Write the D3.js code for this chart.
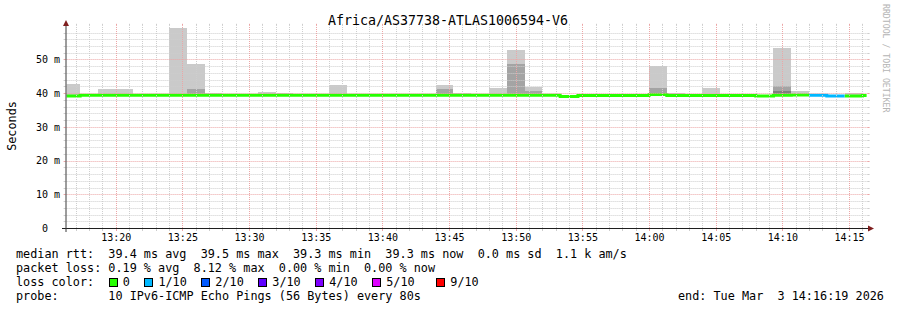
<!DOCTYPE html>
<html>
<head>
<meta charset="utf-8">
<script src="https://cdn.jsdelivr.net/npm/d3@7"></script>
<style>
  body { margin: 0; background: #fff; }
  text { font-family: "DejaVu Sans Mono", monospace; }
</style>
</head>
<body>
<svg id="chart" width="897" height="310"></svg>
<script>
// smokeping graph, 80 s step, 10 pings per step

// start of each 80 s bin
var binTimes = ['13:16:00', '13:17:20', '13:18:40', '13:20:00', '13:21:20', '13:22:40',
  '13:24:00', '13:25:20', '13:26:40', '13:28:00', '13:29:20', '13:30:40', '13:32:00',
  '13:33:20', '13:34:40', '13:36:00', '13:37:20', '13:38:40', '13:40:00', '13:41:20',
  '13:42:40', '13:44:00', '13:45:20', '13:46:40', '13:48:00', '13:49:20', '13:50:40',
  '13:52:00', '13:53:20', '13:54:40', '13:56:00', '13:57:20', '13:58:40', '14:00:00',
  '14:01:20', '14:02:40', '14:04:00', '14:05:20', '14:06:40', '14:08:00', '14:09:20',
  '14:10:40', '14:12:00', '14:13:20', '14:14:40', '14:16:00'];

// median rtt (ms)
var binMedian = [39.2, 39.4, 39.4, 39.4, 39.4, 39.4, 39.4, 39.4, 39.4, 39.4,
  39.4, 39.4, 39.4, 39.4, 39.4, 39.4, 39.4, 39.4, 39.4, 39.4,
  39.4, 39.4, 39.4, 39.4, 39.4, 39.4, 39.4, 39.4, 39.0, 39.3,
  39.3, 39.3, 39.3, 39.6, 39.3, 39.3, 39.3, 39.3, 39.3, 39.2,
  39.4, 39.5, 39.4, 39.2, 39.2, 39.3];

// lost pings out of 10
var binLoss = [0, 0, 0, 0, 0, 0, 0, 0, 0, 0,
  0, 0, 0, 0, 0, 0, 0, 0, 0, 0,
  0, 0, 0, 0, 0, 0, 0, 0, 0, 0,
  0, 0, 0, 0, 0, 0, 0, 0, 0, 0,
  0, 0, 1, 1, 0, 0];

// smoke tops (ms): slowest ping, 9th, 8th  (null = hidden under the median line)
var pingMax = [42.7, null, 41.2, 41.2, null, null, 59.3, 48.7, 40.1, null,
  null, 40.4, 40.1, null, null, 42.4, null, null, null, null,
  null, 42.4, 40.1, null, 41.5, 52.8, 41.8, null, null, null,
  null, null, null, 48.1, 40.1, null, 41.5, null, null, null,
  53.4, 40.7, null, null, 40.0, null];
var pingP9 = [null, null, null, null, null, null, null, 41.2, null, null,
  null, null, null, null, null, null, null, null, null, null,
  null, 41.2, null, null, null, 48.7, 40.7, null, null, null,
  null, null, null, 41.6, null, null, null, null, null, null,
  42.0, null, null, null, null, null];
var pingP8 = [null, null, null, null, null, null, null, null, null, null,
  null, null, null, null, null, null, null, null, null, null,
  null, null, null, null, null, null, null, null, null, null,
  null, null, null, null, null, null, null, null, null, null,
  40.7, null, null, null, null, null];

var yTicks = [0, 10, 20, 30, 40, 50];
var lossLabels = ['0', '1/10', '2/10', '3/10', '4/10', '5/10', '9/10'];
var lossColors = ['#26ff00', '#00b8ff', '#0059ff', '#5e00ff', '#7e00ff', '#dd00ff', '#ff0000'];
var smokeColors = ['#cacaca', '#a4a4a4', '#7e7e7e'];

var legendLines = [
  'median rtt:  39.4 ms avg  39.5 ms max  39.3 ms min  39.3 ms now  0.0 ms sd  1.1 k am/s',
  'packet loss: 0.19 % avg  8.12 % max  0.00 % min  0.00 % now',
  'loss color:',
  'probe:       10 IPv6-ICMP Echo Pings (56 Bytes) every 80s'
];
var titleText = 'Africa/AS37738-ATLAS1006594-V6';
var endText = 'end: Tue Mar  3 14:16:19 2026';

var parse = d3.timeParse('%Y-%m-%d %H:%M:%S');
var day = '2026-03-03 ';
var STEP = 80 * 1000;

var xLeft = 66.6, xRight = 866.6, yBottom = 228, yTop = 25.8;

var svg = d3.select('#chart');
svg.append('rect').attr('width', 897).attr('height', 310).attr('fill', '#fff');

var x = d3.scaleTime()
  .domain([parse(day + '13:16:19'), parse(day + '14:16:19')])
  .range([xLeft, xRight]);
var y = d3.scaleLinear().domain([0, 60]).range([yBottom, yTop]);

var bins = binTimes.map(function(t, i) {
  var s = parse(day + t);
  return {
    start: s, end: new Date(+s + STEP), median: binMedian[i], loss: binLoss[i],
    tops: [pingMax[i], pingP9[i], pingP8[i]]
  };
});

svg.append('clipPath').attr('id', 'plot')
  .append('rect').attr('x', xLeft).attr('y', yTop - 2)
  .attr('width', xRight - xLeft).attr('height', yBottom - yTop + 2);

var graph = svg.append('g').attr('clip-path', 'url(#plot)');

// smoke
smokeColors.forEach(function(col, k) {
  graph.append('g').selectAll('rect')
    .data(bins.filter(function(b) { return b.tops[k] != null; }))
    .enter().append('rect')
    .attr('x', function(b) { return x(b.start); })
    .attr('width', function(b) { return x(b.end) - x(b.start); })
    .attr('y', function(b) { return y(b.tops[k]); })
    .attr('height', function(b) { return y(b.median) - y(b.tops[k]); })
    .attr('fill', col)
    .attr('shape-rendering', 'crispEdges');
});

// median line, coloured by loss
var pts = [];
bins.forEach(function(b) {
  pts.push({ t: b.start, v: b.median, loss: b.loss });
  pts.push({ t: b.end, v: b.median, loss: b.loss });
});
lossColors.forEach(function(col, c) {
  var lossVal = c === 6 ? 9 : c;
  if (!pts.some(function(p) { return p.loss === lossVal; })) return;
  var line = d3.line()
    .defined(function(p) { return p.loss === lossVal; })
    .x(function(p) { return x(p.t); })
    .y(function(p) { return y(p.v); });
  graph.append('path').attr('d', line(pts))
    .attr('fill', 'none').attr('stroke', col).attr('stroke-width', 3);
});

// grid on top
var grid = svg.append('g');
var minorY = d3.range(2, 60, 2).filter(function(v) { return v % 10 !== 0; });
var majorY = yTicks.filter(function(v) { return v > 0; });
var minorX = x.ticks(d3.timeMinute.every(1)).filter(function(d) { return d.getMinutes() % 5 !== 0; });
var majorX = x.ticks(d3.timeMinute.every(5));
var gridCol = '#cecece', mgridCol = '#eca6a6';
function py(v) { return Math.round(y(v)) + 0.5; }
function px(d) { return Math.round(x(d)) + 0.5; }

function hLines(vals, col) {
  grid.append('g').selectAll('line').data(vals).enter().append('line')
    .attr('x1', xLeft).attr('x2', xRight + 1)
    .attr('y1', py).attr('y2', py)
    .attr('stroke', col).attr('stroke-dasharray', '1,1');
  grid.append('g').selectAll('path').data(vals).enter().append('path')
    .attr('d', function(v) { return 'M' + (xLeft - 3) + ',' + py(v) + 'h2M' + (xRight + 1) + ',' + py(v) + 'h2'; })
    .attr('stroke', col);
}
function vLines(vals, col) {
  grid.append('g').selectAll('line').data(vals).enter().append('line')
    .attr('x1', px).attr('x2', px)
    .attr('y1', yBottom).attr('y2', yTop)
    .attr('stroke', col).attr('stroke-dasharray', '1,1');
  grid.append('g').selectAll('path').data(vals).enter().append('path')
    .attr('d', function(d) { return 'M' + px(d) + ',' + (yBottom + 1) + 'v2M' + px(d) + ',' + (yTop - 2) + 'v2'; })
    .attr('stroke', col);
}
hLines(minorY, gridCol);
vLines(minorX, gridCol);
hLines(majorY, mgridCol);
vLines(majorX, mgridCol);

// axes lines and arrows
svg.append('line').attr('x1', 62).attr('x2', 870).attr('y1', yBottom + 0.5).attr('y2', yBottom + 0.5)
  .attr('stroke', '#1f1f1f');
svg.append('line').attr('x1', 66).attr('x2', 66).attr('y1', 232).attr('y2', 22)
  .attr('stroke', '#3a3a3a');
svg.append('path').attr('d', 'M63,26L66,20L69,26Z').attr('fill', '#7f1f1f');
svg.append('path').attr('d', 'M868,225.5L874,228.5L868,231.5Z').attr('fill', '#7f1f1f');

// axis labels via d3 axes
var xAxis = svg.append('g').attr('transform', 'translate(0,' + yBottom + ')')
  .call(d3.axisBottom(x).ticks(d3.timeMinute.every(5))
    .tickFormat(d3.timeFormat('%H:%M')).tickSize(0).tickPadding(6));
xAxis.select('.domain').remove();
xAxis.selectAll('text').attr('font-family', '"DejaVu Sans Mono", monospace')
  .attr('font-size', 10).attr('fill', '#000');

var yAxis = svg.append('g').attr('transform', 'translate(' + xLeft + ',0)')
  .call(d3.axisLeft(y).tickValues(yTicks)
    .tickFormat(function(v) { return v === 0 ? '0' : v + ' m'; })
    .tickSize(0).tickPadding(6.5));
yAxis.select('.domain').remove();
yAxis.selectAll('text').attr('font-family', '"DejaVu Sans Mono", monospace')
  .attr('font-size', 10).attr('fill', '#000')
  .attr('x', function(v) { return v === 0 ? -18.5 : -6.5; });

// titles
svg.append('text').attr('x', 448).attr('y', 20).attr('text-anchor', 'middle')
  .attr('dominant-baseline', 'central').attr('font-size', 13.3).text(titleText);
svg.append('text').attr('transform', 'translate(12,126) rotate(-90)')
  .attr('text-anchor', 'middle').attr('dominant-baseline', 'central')
  .attr('font-size', 11.8).text('Seconds');
svg.append('text').attr('transform', 'translate(886,4) rotate(90)')
  .attr('dominant-baseline', 'central').attr('font-size', 8.2)
  .attr('fill', '#b4b4b4').text('RRDTOOL / TOBI OETIKER');

// legend
var cw = 7.12, lx = 16;
legendLines.forEach(function(s, i) {
  svg.append('text').attr('x', lx).attr('y', 258 + i * 14)
    .attr('font-size', 11.8).style('white-space', 'pre').text(s);
});
var boxCols = [13, 18, 26, 34, 42, 50, 59];
var lg = svg.append('g').selectAll('g').data(lossLabels).enter().append('g');
lg.append('rect')
  .attr('x', function(d, i) { return Math.round(lx + boxCols[i] * cw) + 0.5; })
  .attr('y', 278.5).attr('width', 8).attr('height', 8)
  .attr('fill', function(d, i) { return lossColors[i]; })
  .attr('stroke', '#000');
lg.append('text')
  .attr('x', function(d, i) { return lx + (boxCols[i] + 2) * cw; })
  .attr('y', 286).attr('font-size', 11.8).text(function(d) { return d; });
svg.append('text').attr('x', 678).attr('y', 300).attr('font-size', 11.8)
  .style('white-space', 'pre').text(endText);
</script>
</body>
</html>
